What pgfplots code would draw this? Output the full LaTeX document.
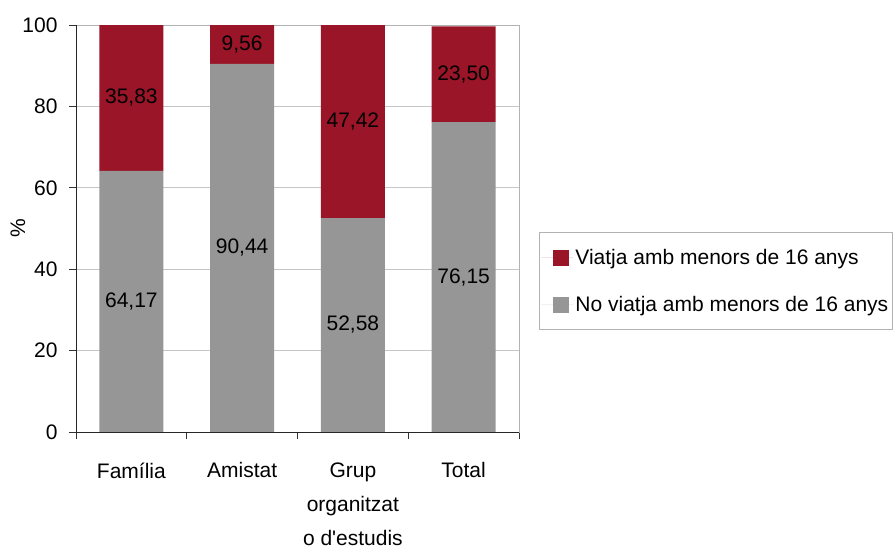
\documentclass[border=0pt]{standalone}
\usepackage{pgfplots}
\pgfplotsset{compat=1.18}
\usepackage{fontspec}
\setmainfont{Liberation Sans}
\definecolor{barred}{HTML}{9A1528}
\definecolor{bargray}{HTML}{969696}

\pgfplotstableread{
x  nov    via
0  64.17  35.83
1  90.44  9.56
2  52.58  47.42
3  76.15  23.50
}\dades

% label positions (middle of each segment)
\pgfplotstableread{
x  y       lab
0  32.085  64,17
1  45.22   90,44
2  26.29   52,58
3  38.075  76,15
0  82.085  35,83
1  95.22   9,56
2  76.29   47,42
3  87.90   23,50
}\etiquetes

\begin{document}
\begin{tikzpicture}[font=\fontsize{21}{34}\selectfont]
\path[use as bounding box] (-76pt,-118pt) rectangle (817pt,432pt);
\begin{axis}[
    at={(0pt,0pt)}, anchor=south west,
    scale only axis, width=443pt, height=407pt,
    ybar stacked, bar width=64pt,
    xmin=-0.5, xmax=3.5, ymin=0, ymax=100,
    xtick={-0.5,0.5,1.5,2.5,3.5}, xticklabels={},
    extra x ticks={0,1,2,3},
    extra x tick labels={Família,Amistat,{Grup\\organitzat\\o d\textquotesingle estudis},Total},
    extra x tick style={major tick length=0pt, tick label style={align=center, yshift=-27pt}},
    ytick={0,20,...,100},
    xtick pos=bottom, ytick pos=left,
    yticklabel style={xshift=-8pt},
    /pgf/number format/assume math mode=true,
    tick align=outside, major tick length=7pt,
    tick style={black!80, line width=0.9pt},
    ymajorgrids, grid style={gray!45, line width=0.9pt},
    axis line style={gray!60, line width=0.9pt},
    ylabel={\%},
    every axis y label/.style={at={(axis description cs:-0.131,0.5)}, rotate=90, anchor=center},
    reverse legend,
    legend cell align=left,
    legend style={at={(axis description cs:1.0451,0.4914)}, anchor=north west,
        draw=gray!60, line width=0.9pt, font=\fontsize{21}{25}\selectfont,
        row sep=26pt, inner xsep=2pt, inner ysep=15pt},
    legend image code/.code={\path (0pt,0pt) -- (32pt,0pt);
        \fill[#1] (12pt,-8pt) rectangle (28pt,8pt);},
    after end axis/.code={
        \draw[black!85, line width=1pt] (rel axis cs:0,1) -- (rel axis cs:0,0) -- (rel axis cs:1,0);
    },
]
\addplot[fill=bargray, draw=none] table[x=x, y=nov] {\dades};
\addplot[fill=barred, draw=none] table[x=x, y=via] {\dades};
\legend{No viatja amb menors de 16 anys, Viatja amb menors de 16 anys}
\end{axis}
\begin{axis}[
    at={(0pt,0pt)}, anchor=south west,
    scale only axis, width=443pt, height=407pt,
    xmin=-0.5, xmax=3.5, ymin=0, ymax=100,
    axis lines=none, ticks=none,
]
\addplot[draw=none, mark=none, nodes near coords, point meta=explicit symbolic,
    every node near coord/.append style={anchor=center, black}]
    table[x=x, y=y, meta=lab] {\etiquetes};
\end{axis}
\end{tikzpicture}
\end{document}
